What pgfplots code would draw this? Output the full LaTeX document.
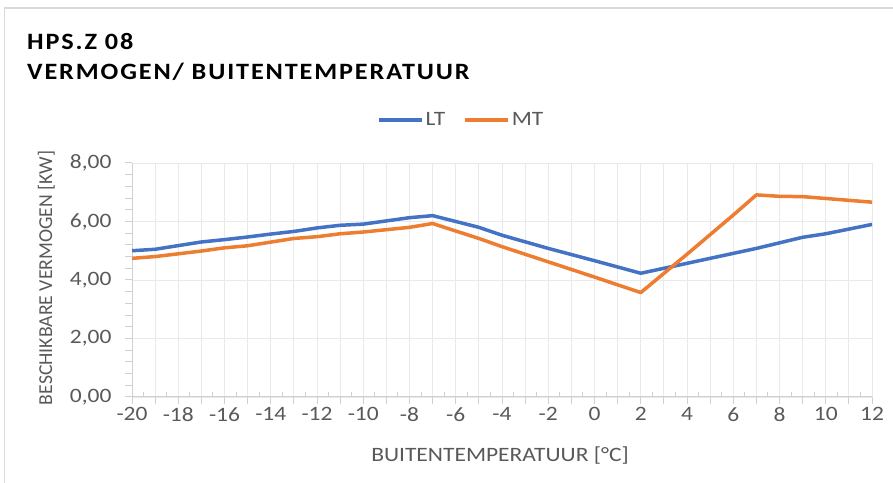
\documentclass[border=0pt]{standalone}
\usepackage{pgfplots}
\pgfplotsset{compat=1.18}
\usepackage{fontspec}
\setmainfont[FakeStretch=1.15]{Carlito}
\newfontfamily\plainfont{Carlito}
\newfontfamily\titlefont[LetterSpace=8,FakeStretch=1.12]{Carlito}
\definecolor{ltblue}{HTML}{4472C4}
\definecolor{mtorange}{HTML}{ED7D31}
\definecolor{txtgray}{HTML}{595959}
\definecolor{gridgray}{HTML}{E9E9E9}
\definecolor{axgray}{HTML}{D0D0D0}
\begin{document}
\begin{tikzpicture}[x=1bp,y=1bp]
\path[use as bounding box] (0,0) rectangle (893,483);
\draw[color=axgray!80, line width=1.5bp] (4.5,0) -- (4.5,475) -- (893,475);
\node[anchor=base west, inner sep=0pt] at (27,433) {\titlefont\bfseries\fontsize{23.5}{28}\selectfont HPS.Z 08};
\node[anchor=base west, inner sep=0pt] at (27,403) {\titlefont\bfseries\fontsize{23.5}{28}\selectfont VERMOGEN/ BUITENTEMPERATUUR};
\begin{axis}[
  at={(132bp,86bp)}, anchor=south west,
  scale only axis, width=740bp, height=234bp,
  xmin=-20, xmax=12, ymin=0, ymax=8,
  axis lines*=left,
  axis line style={color=axgray, line width=1bp},
  xtick={-20,-18,...,12},
  minor x tick num=1,
  ytick={0,2,...,8},
  minor y tick num=4,
  xmajorgrids, xminorgrids, ymajorgrids,
  grid style={color=gridgray, line width=0.8bp},
  minor grid style={color=gridgray, line width=0.8bp},
  tick align=outside,
  major tick length=7bp, minor tick length=7bp,
  tick style={color=axgray, line width=1bp},
  extra x ticks={-19.5,-18.5,...,11.5},
  extra x tick labels={},
  extra x tick style={grid=none, tick align=inside, major tick length=5bp},
  /pgf/number format/assume math mode=true,
  ticklabel style={font=\fontsize{20.5}{24}\selectfont, color=txtgray},
  yticklabel style={xshift=-10bp, /pgf/number format/.cd, fixed, fixed zerofill, precision=2, use comma},
  xticklabel style={/pgf/number format/.cd, fixed, precision=0},
  legend style={at={(0.445,1.184)}, anchor=center, draw=none, fill=none,
    font=\fontsize{20.5}{24}\selectfont, text=txtgray,
    nodes={inner xsep=2bp},
    /tikz/every even column/.append style={column sep=16bp}},
  legend columns=2,
  legend image code/.code={\draw[#1] (0bp,0bp) -- (43bp,0bp);},
]
\addplot[ltblue, line width=3.5bp, line join=round] coordinates {
(-20,5.00) (-19,5.05) (-17,5.30) (-16,5.38) (-15,5.47) (-14,5.57) (-13,5.66) (-12,5.78) (-11,5.87) (-10,5.91)
(-8,6.13) (-7,6.20) (-5,5.80) (-4,5.53) (-2,5.08) (0,4.66) (2,4.23) (7,5.08) (9,5.46) (10,5.58) (12,5.90)
};
\addlegendentry{LT}
\addplot[mtorange, line width=3.5bp, line join=round] coordinates {
(-20,4.74) (-19,4.80) (-17,4.99) (-16,5.10) (-15,5.17) (-13,5.42) (-12,5.48) (-11,5.58) (-10,5.64)
(-8,5.80) (-7,5.93) (-5,5.42) (-4,5.14) (-2,4.62) (0,4.10) (2,3.57) (4,4.88) (6,6.22) (7,6.91) (8,6.86) (9,6.85) (12,6.66)
};
\addlegendentry{MT}
\end{axis}
\node[anchor=base, inner sep=0pt, color=txtgray] at (500,21) {\fontsize{20.5}{24}\selectfont BUITENTEMPERATUUR [°C]};
\node[anchor=base, inner sep=0pt, color=txtgray, rotate=90] at (52,205) {\plainfont\fontsize{19.8}{24}\selectfont BESCHIKBARE VERMOGEN [KW]};
\end{tikzpicture}
\end{document}
